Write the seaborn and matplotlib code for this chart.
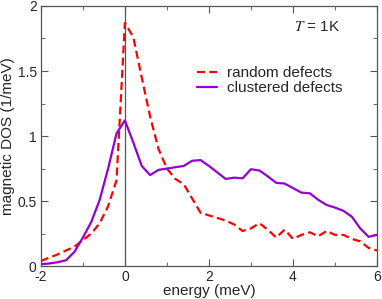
import numpy as np
import pandas as pd
import matplotlib
matplotlib.use("Agg")
import matplotlib.pyplot as plt
from matplotlib.ticker import MultipleLocator, FormatStrFormatter
import seaborn as sns

# -------------------------------
# Data
# -------------------------------
energy = [-2.0, -1.8, -1.6, -1.4, -1.2, -1.0, -0.8, -0.6, -0.4, -0.2,
          0.0, 0.2, 0.4, 0.6, 0.8, 1.0, 1.2, 1.4, 1.6, 1.8,
          2.0, 2.2, 2.4, 2.6, 2.8, 3.0, 3.2, 3.4, 3.6, 3.8,
          4.0, 4.2, 4.4, 4.6, 4.8, 5.0, 5.2, 5.4, 5.6, 5.8, 6.0]

random_dos = [0.04, 0.065, 0.09, 0.12, 0.15, 0.20, 0.25, 0.33, 0.46, 0.66,
              1.87, 1.76, 1.45, 1.15, 0.90, 0.75, 0.67, 0.63, 0.52, 0.41,
              0.39, 0.37, 0.35, 0.32, 0.27, 0.29, 0.33, 0.28, 0.22, 0.28,
              0.21, 0.24, 0.26, 0.23, 0.27, 0.24, 0.24, 0.21, 0.19, 0.14, 0.12]

clustered_dos = [0.015, 0.02, 0.03, 0.045, 0.11, 0.22, 0.34, 0.51, 0.75, 1.02,
                 1.12, 0.95, 0.77, 0.70, 0.74, 0.75, 0.76, 0.77, 0.81, 0.815,
                 0.77, 0.72, 0.67, 0.68, 0.675, 0.745, 0.735, 0.69, 0.64, 0.635,
                 0.60, 0.565, 0.56, 0.51, 0.47, 0.45, 0.425, 0.38, 0.29, 0.225, 0.24]

labels = ["random defects", "clustered defects"]

df = pd.DataFrame({"energy": energy, "random": random_dos, "clustered": clustered_dos})

# -------------------------------
# Style
# -------------------------------
sns.set_style("ticks")
plt.rcParams['font.family'] = ['Liberation Sans', 'DejaVu Sans']
plt.rcParams['font.size'] = 11

DASH = [3.6, 1.9]

fig = plt.figure(figsize=(3.82, 2.99), dpi=100)
ax = fig.add_axes([0.107, 0.110, 0.880, 0.870])

ax.axvline(0, color="#555555", lw=0.9, zorder=1)

sns.lineplot(data=df, x="energy", y="random", ax=ax, color="#ff0000", lw=1.6,
             label=labels[0])
ax.lines[-1].set_dashes(DASH)
sns.lineplot(data=df, x="energy", y="clustered", ax=ax, color="#9400d3", lw=1.6,
             label=labels[1])

ax.set_xlim(-2, 6)
ax.set_ylim(0, 2)
ax.xaxis.set_major_locator(MultipleLocator(2))
ax.xaxis.set_minor_locator(MultipleLocator(1))
ax.yaxis.set_major_locator(MultipleLocator(0.5))
ax.yaxis.set_minor_locator(MultipleLocator(0.25))
ax.xaxis.set_major_formatter(FormatStrFormatter("%g"))
ax.yaxis.set_major_formatter(FormatStrFormatter("%g"))
ax.tick_params(which="both", direction="in", top=True, right=True,
               color="#555555", labelsize=10, pad=3)
ax.tick_params(which="major", length=5)
ax.tick_params(which="minor", length=3)
for s in ax.spines.values():
    s.set_color("#555555")
    s.set_linewidth(0.9)

ax.set_xlabel("energy (meV)", fontsize=11, labelpad=0)
ax.set_ylabel("magnetic DOS (1/meV)", fontsize=11, labelpad=2)

ax.text(5.12, 1.84, "$T$ = 1K", ha="right", va="center", fontsize=11,
        math_fontfamily="stix")

leg = ax.legend(frameon=False, loc="upper left", bbox_to_anchor=(0.441, 0.798),
                borderpad=0, handlelength=1.35, handletextpad=0.6,
                labelspacing=0.05, fontsize=11)
leg.get_lines()[0].set_dashes(DASH)

plt.savefig("out.png", dpi=100)
